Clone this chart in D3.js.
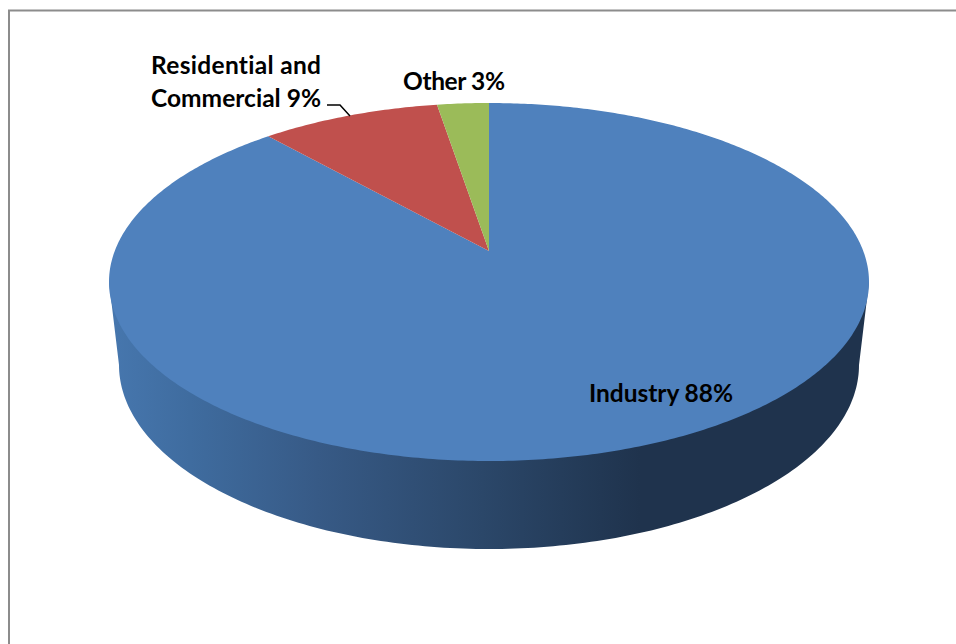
<!DOCTYPE html>
<html>
<head>
<meta charset="utf-8">
<script src="https://cdn.jsdelivr.net/npm/d3@7"></script>
<style>
html,body{margin:0;padding:0;background:#fff;overflow:hidden}
svg{display:block}
text{font-family:Lato,"Open Sans",sans-serif;font-weight:700;font-size:24.5px;fill:#000;font-variant-ligatures:none}
</style>
</head>
<body>
<svg id="c" width="956" height="644"></svg>
<script>
const categories = ["Industry", "Residential and Commercial", "Other"];
const values = [88.4, 9.0, 2.6];
const percentLabels = ["88%", "9%", "3%"];
const sliceColors = ["#4f81bd", "#c0504d", "#9bbb59"];
const wallStops = [[0, "#4676ad"], [0.1, "#3f6c9f"], [0.27, "#375a86"], [0.49, "#2b4769"], [0.7, "#1f334d"], [1, "#1f334d"]];

const svg = d3.select("#c");

// frame
svg.append("path").attr("d", "M9,644V10.5H956").attr("fill", "none").attr("stroke", "#8c8c8c").attr("stroke-width", 2);

// geometry of the tilted disc
const cx = 489, cy = 282, rx = 380, ry = 179, apexLift = 31;
const persp = apexLift * 2 / (2 * ry);
const rxC = rx * Math.sqrt(1 - (apexLift / ry) ** 2);
const project = a => {
  const u = Math.sin(a), v = Math.cos(a), den = 1 + persp * v;
  return [cx + rxC * u / den, cy - (ry * v + apexLift) / den];
};
const line = d3.line();

// wall gradient
const defs = svg.append("defs");
const grad = defs.append("linearGradient").attr("id", "wall")
  .attr("gradientUnits", "userSpaceOnUse").attr("x1", 115).attr("x2", 865).attr("y1", 0).attr("y2", 0);
grad.selectAll("stop").data(wallStops).join("stop")
  .attr("offset", d => d[0]).attr("stop-color", d => d[1]);

// wall: lower rim ellipse joined to the disc sides
const bcy = 365, brx = 370, bry = 184;
const rimAngles = d3.range(0, 180.5, 1).map(d => d * Math.PI / 180);
const rim = rimAngles.map(t => [cx + brx * Math.cos(t), bcy + bry * Math.sin(t)]);
svg.append("path")
  .attr("d", line([[cx + rx, cy], ...rim, [cx - rx, cy]]) + "Z")
  .attr("fill", "url(#wall)");

// top slices
const pie = d3.pie().sort(null).startAngle(0).endAngle(2 * Math.PI);
const arcs = pie(values);
const apex = [cx, cy - apexLift];
svg.selectAll("path.slice").data(arcs).join("path")
  .attr("class", "slice")
  .attr("fill", (d, i) => sliceColors[i])
  .attr("d", d => {
    const n = Math.max(4, Math.ceil((d.endAngle - d.startAngle) * 90));
    const pts = d3.range(n + 1).map(i => project(d.startAngle + (d.endAngle - d.startAngle) * i / n));
    return line([apex, ...pts]) + "Z";
  });

// labels
const labels = svg.append("g");
labels.append("text").attr("x", 589).attr("y", 402).attr("textLength", 144).text(categories[0] + " " + percentLabels[0]);
labels.append("text").attr("x", 151).attr("y", 74).attr("textLength", 170).text("Residential and");
labels.append("text").attr("x", 151).attr("y", 107).attr("textLength", 170).text("Commercial " + percentLabels[1]);
labels.append("text").attr("x", 403).attr("y", 90).attr("textLength", 102).text(categories[2] + " " + percentLabels[2]);

// leader line
svg.append("path").attr("d", "M327,105H340L350,116").attr("fill", "none").attr("stroke", "#000").attr("stroke-width", 1.5);
</script>
</body>
</html>
